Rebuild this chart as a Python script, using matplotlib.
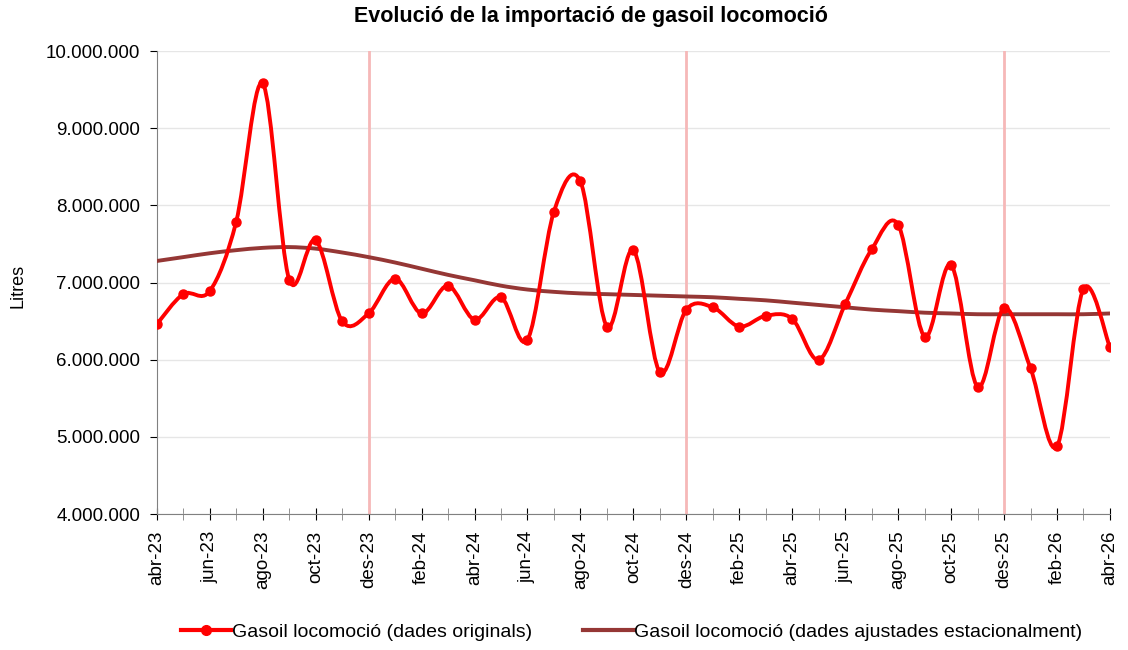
import matplotlib
matplotlib.use("Agg")
import matplotlib.pyplot as plt
from matplotlib.path import Path
from matplotlib.patches import PathPatch
from matplotlib.lines import Line2D
from matplotlib.ticker import FuncFormatter, MultipleLocator

plt.rcParams['font.family'] = ['Liberation Sans', 'DejaVu Sans']

# mesos abr-23 .. abr-26
mesos = ['abr', 'mai', 'jun', 'jul', 'ago', 'set', 'oct', 'nov', 'des',
         'gen', 'feb', 'mar']
etiquetes = []
any_ = 23
for i in range(37):
    m = mesos[i % 12]
    if m == 'gen':
        any_ += 1
    etiquetes.append(f"{m}-{any_}")

# milions de litres
originals = [6.46, 6.85, 6.89, 7.79, 9.58, 7.04, 7.55, 6.50, 6.60,
             7.05, 6.60, 6.96, 6.52, 6.81, 6.26, 7.92, 8.31, 6.43,
             7.42, 5.84, 6.65, 6.68, 6.43, 6.57, 6.53, 6.00, 6.72,
             7.43, 7.75, 6.30, 7.23, 5.65, 6.67, 5.89, 4.88, 6.92, 6.16]

ajustades = [7.28, 7.33, 7.38, 7.42, 7.45, 7.46, 7.44, 7.39, 7.33,
             7.26, 7.18, 7.10, 7.03, 6.96, 6.91, 6.88, 6.86, 6.85,
             6.84, 6.83, 6.82, 6.81, 6.79, 6.77, 6.74, 6.71, 6.68,
             6.65, 6.63, 6.61, 6.60, 6.59, 6.59, 6.59, 6.59, 6.59, 6.60]

desembres = [i for i, e in enumerate(etiquetes) if e.startswith('des')]


def smooth_path(xs, ys):
    # corba suavitzada tipus Excel (Bezier cubic)
    pts = list(zip(xs, ys))
    verts = [pts[0]]
    codes = [Path.MOVETO]
    n = len(pts)
    for i in range(n - 1):
        p0 = pts[i - 1] if i > 0 else pts[i]
        p1 = pts[i]
        p2 = pts[i + 1]
        p3 = pts[i + 2] if i + 2 < n else pts[i + 1]
        c1 = (p1[0] + (p2[0] - p0[0]) / 6, p1[1] + (p2[1] - p0[1]) / 6)
        c2 = (p2[0] - (p3[0] - p1[0]) / 6, p2[1] - (p3[1] - p1[1]) / 6)
        verts += [c1, c2, p2]
        codes += [Path.CURVE4] * 3
    return Path(verts, codes)


fig = plt.figure(figsize=(11.28, 6.5), dpi=100)
ax = fig.add_axes([0.139, 0.209, 0.845, 0.7125])

x = list(range(len(etiquetes)))
y_orig = [v * 1e6 for v in originals]
y_adj = [v * 1e6 for v in ajustades]

ax.set_xlim(0, 36)
ax.set_ylim(4e6, 10e6)

for d in desembres:
    ax.axvline(d, color='#F6B8B8', lw=2, zorder=1)

ax.add_patch(PathPatch(smooth_path(x, y_adj), fill=False, color='#953735',
                       lw=2.8, zorder=3, capstyle='round'))
ax.add_patch(PathPatch(smooth_path(x, y_orig), fill=False, color='#FF0000',
                       lw=2.8, zorder=4, capstyle='round'))
ax.plot(x, y_orig, 'o', color='#FF0000', ms=6.5, zorder=5)

ax.yaxis.set_major_locator(MultipleLocator(1e6))
ax.yaxis.set_major_formatter(FuncFormatter(lambda v, p: f"{v:,.0f}".replace(',', '.')))
ax.grid(axis='y', color='#E6E6E6', lw=1)
ax.set_axisbelow(True)

ax.set_xticks(x[::2])
ax.set_xticklabels(etiquetes[::2], rotation=90)
ax.set_xticks(x, minor=True)
ax.tick_params(axis='x', which='both', direction='inout', length=8,
               color='#808080', pad=8)
ax.tick_params(axis='y', direction='out', length=5, color='#808080', pad=7)
ax.tick_params(labelsize=13.5, colors='black')

for s in ['top', 'right']:
    ax.spines[s].set_visible(False)
for s in ['left', 'bottom']:
    ax.spines[s].set_color('#808080')

fig.text(0.016, 0.56, 'Litres', fontsize=13, rotation=90, ha='center', va='center')
fig.text(0.524, 0.975, 'Evolució de la importació de gasoil locomoció',
         fontsize=15.5, fontweight='bold', ha='center', va='center')

handles = [
    Line2D([], [], color='#FF0000', lw=3, marker='o', ms=7),
    Line2D([], [], color='#953735', lw=3),
]
fig.legend(handles, ['Gasoil locomoció (dades originals)',
                     'Gasoil locomoció (dades ajustades estacionalment)'],
           loc='center', bbox_to_anchor=(0.56, 0.028), ncol=2, frameon=False,
           fontsize=14, handlelength=2.6, handletextpad=0.05, columnspacing=2.6)

fig.savefig('out.png', dpi=100)
